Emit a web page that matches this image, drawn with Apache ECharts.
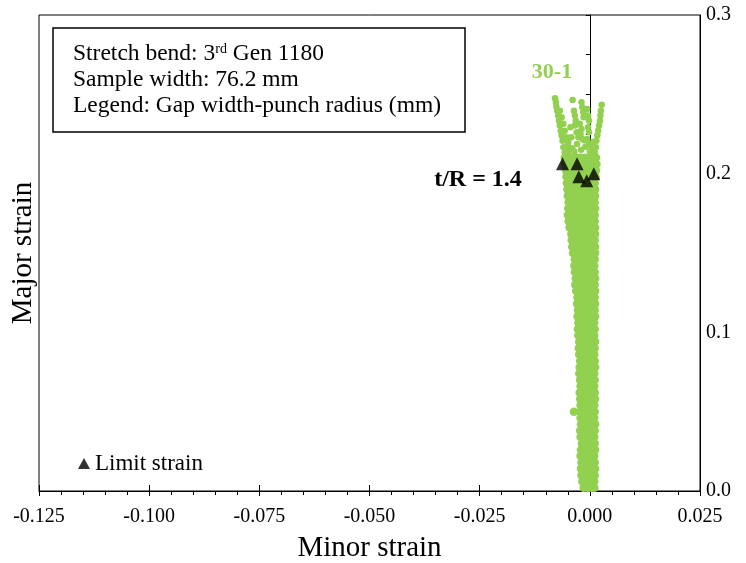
<!DOCTYPE html>
<html>
<head>
<meta charset="utf-8">
<script src="https://cdn.jsdelivr.net/npm/echarts@6/dist/echarts.min.js"></script>
<style>
  html, body { margin: 0; padding: 0; background: #fff; }
  #chart { width: 746px; height: 563px; }
</style>
</head>
<body>
<div id="chart"></div>
<script>
// main band of the 30-1 scatter: [major strain, minor strain values in that row]
const bandRows = [
  [0.002, -0.0014, -0.0005, 0.0004, 0.0010],
  [0.006, -0.0017, -0.0008, 0.0001, 0.0010],
  [0.010, -0.0019, -0.0010, -0.0001, 0.0008, 0.0011],
  [0.014, -0.0020, -0.0011, -0.0002, 0.0007, 0.0012],
  [0.018, -0.0019, -0.0010, -0.0001, 0.0008, 0.0011],
  [0.022, -0.0021, -0.0012, -0.0003, 0.0006, 0.0010],
  [0.026, -0.0020, -0.0011, -0.0002, 0.0007, 0.0012],
  [0.030, -0.0018, -0.0009, 0.0000, 0.0009, 0.0011],
  [0.034, -0.0021, -0.0012, -0.0003, 0.0006, 0.0010],
  [0.038, -0.0022, -0.0013, -0.0004, 0.0005, 0.0011],
  [0.042, -0.0020, -0.0011, -0.0002, 0.0007, 0.0012],
  [0.046, -0.0021, -0.0012, -0.0003, 0.0006, 0.0010],
  [0.050, -0.0036, -0.0022, -0.0013, -0.0004, 0.0005, 0.0011],
  [0.054, -0.0021, -0.0012, -0.0003, 0.0006, 0.0010],
  [0.058, -0.0022, -0.0013, -0.0004, 0.0005, 0.0012],
  [0.062, -0.0023, -0.0014, -0.0005, 0.0004, 0.0011],
  [0.066, -0.0021, -0.0012, -0.0003, 0.0006, 0.0010],
  [0.070, -0.0022, -0.0013, -0.0004, 0.0005, 0.0011],
  [0.074, -0.0024, -0.0015, -0.0006, 0.0003, 0.0010],
  [0.078, -0.0023, -0.0014, -0.0005, 0.0004, 0.0012],
  [0.082, -0.0022, -0.0013, -0.0004, 0.0005, 0.0011],
  [0.086, -0.0024, -0.0015, -0.0006, 0.0003, 0.0010],
  [0.090, -0.0025, -0.0016, -0.0007, 0.0002, 0.0011],
  [0.094, -0.0024, -0.0015, -0.0006, 0.0003, 0.0012],
  [0.098, -0.0026, -0.0017, -0.0008, 0.0001, 0.0010],
  [0.102, -0.0027, -0.0018, -0.0009, 0.0000, 0.0011],
  [0.106, -0.0026, -0.0017, -0.0008, 0.0001, 0.0010],
  [0.110, -0.0028, -0.0019, -0.0010, -0.0001, 0.0008, 0.0012],
  [0.114, -0.0027, -0.0018, -0.0009, 0.0000, 0.0009, 0.0011],
  [0.118, -0.0029, -0.0020, -0.0011, -0.0002, 0.0007, 0.0012],
  [0.122, -0.0028, -0.0019, -0.0010, -0.0001, 0.0008, 0.0011],
  [0.126, -0.0031, -0.0022, -0.0013, -0.0004, 0.0005, 0.0012],
  [0.130, -0.0033, -0.0024, -0.0015, -0.0006, 0.0003, 0.0011],
  [0.134, -0.0032, -0.0023, -0.0014, -0.0005, 0.0004, 0.0012],
  [0.138, -0.0034, -0.0025, -0.0016, -0.0007, 0.0002, 0.0011],
  [0.142, -0.0035, -0.0026, -0.0017, -0.0008, 0.0001, 0.0010],
  [0.146, -0.0034, -0.0025, -0.0016, -0.0007, 0.0002, 0.0011],
  [0.150, -0.0038, -0.0029, -0.0020, -0.0011, -0.0002, 0.0007, 0.0012],
  [0.154, -0.0040, -0.0031, -0.0022, -0.0013, -0.0004, 0.0005, 0.0012],
  [0.158, -0.0041, -0.0032, -0.0023, -0.0014, -0.0005, 0.0004, 0.0011],
  [0.162, -0.0042, -0.0033, -0.0024, -0.0015, -0.0006, 0.0003, 0.0012],
  [0.166, -0.0046, -0.0037, -0.0028, -0.0019, -0.0010, -0.0001, 0.0008, 0.0012],
  [0.170, -0.0048, -0.0039, -0.0030, -0.0021, -0.0012, -0.0003, 0.0006, 0.0011],
  [0.174, -0.0050, -0.0041, -0.0032, -0.0023, -0.0014, -0.0005, 0.0004, 0.0011],
  [0.178, -0.0049, -0.0040, -0.0031, -0.0022, -0.0013, -0.0004, 0.0005, 0.0012],
  [0.182, -0.0048, -0.0039, -0.0030, -0.0021, -0.0012, -0.0003, 0.0006, 0.0011],
  [0.186, -0.0050, -0.0041, -0.0032, -0.0023, -0.0014, -0.0005, 0.0004, 0.0012],
  [0.190, -0.0051, -0.0042, -0.0033, -0.0024, -0.0015, -0.0006, 0.0003, 0.0012],
  [0.194, -0.0052, -0.0043, -0.0034, -0.0025, -0.0016, -0.0007, 0.0002, 0.0011],
  [0.198, -0.0053, -0.0044, -0.0035, -0.0026, -0.0017, -0.0008, 0.0001, 0.0010, 0.0013],
  [0.202, -0.0054, -0.0045, -0.0036, -0.0027, -0.0018, -0.0009, 0.0000, 0.0009, 0.0014],
  [0.206, -0.0056, -0.0047, -0.0038, -0.0029, -0.0020, -0.0011, -0.0002, 0.0007, 0.0015],
  [0.210, -0.0057, -0.0048, -0.0039, -0.0030, -0.0021, -0.0012, -0.0003, 0.0006, 0.0014]
];

// loose points in the fingers above the limit strains: [minor, major]
const fingerPoints = [
  [-0.0079, 0.2475], [-0.0077, 0.2450], [-0.0076, 0.2423], [-0.0074, 0.2397], [-0.0072, 0.2366],
  [-0.0070, 0.2334], [-0.0068, 0.2303], [-0.0066, 0.2271], [-0.0064, 0.2240], [-0.0062, 0.2208],
  [-0.0060, 0.2166], [-0.0057, 0.2134],
  [-0.0068, 0.2397], [-0.0064, 0.2356], [-0.0060, 0.2314], [-0.0057, 0.2271], [-0.0053, 0.2229],
  [-0.0049, 0.2198], [-0.0047, 0.2156],
  [-0.0039, 0.2465], [-0.0036, 0.2397], [-0.0034, 0.2366], [-0.0032, 0.2334], [-0.0034, 0.2303],
  [-0.0030, 0.2261], [-0.0026, 0.2229], [-0.0029, 0.2187], [-0.0044, 0.2292], [-0.0042, 0.2229],
  [-0.0019, 0.2450], [-0.0017, 0.2418], [-0.0015, 0.2387], [-0.0014, 0.2355], [-0.0023, 0.2314],
  [-0.0019, 0.2282], [-0.0021, 0.2250], [-0.0017, 0.2219],
  [-0.0006, 0.2408], [-0.0004, 0.2366], [-0.0002, 0.2334], [-0.0004, 0.2292], [-0.0002, 0.2261],
  [-0.0006, 0.2219], [-0.0002, 0.2187],
  [0.0027, 0.2435], [0.0025, 0.2397], [0.0024, 0.2366], [0.0023, 0.2334], [0.0021, 0.2303],
  [0.0019, 0.2271], [0.0017, 0.2240], [0.0015, 0.2208], [0.0014, 0.2166], [0.0011, 0.2134],
  [-0.0050, 0.2180], [-0.0040, 0.2160], [-0.0010, 0.2170], [0.0005, 0.2160], [0.0008, 0.2200],
  [-0.0013, 0.2210], [-0.0035, 0.2140], [-0.0020, 0.2150], [0.0000, 0.2140], [0.0010, 0.2150],
  [-0.0049, 0.2140]
];

const limitMinor = [-0.0062, -0.0029, -0.0025, -0.0007, 0.0009];
const limitMajor = [0.2063, 0.2063, 0.1980, 0.1956, 0.2000];

let bandPoints = [];
for (let i = 0; i < bandRows.length; i++) {
  for (let j = 1; j < bandRows[i].length; j++) {
    bandPoints.push([bandRows[i][j], bandRows[i][0]]);
  }
}
let limitPoints = [];
for (let i = 0; i < limitMinor.length; i++) {
  limitPoints.push([limitMinor[i], limitMajor[i]]);
}

const serif = 'Liberation Serif';
const green = '#92D050';

let chart = echarts.init(document.getElementById('chart'));
chart.setOption({
  animation: false,
  grid: {
    left: 39, right: 46, top: 15, bottom: 72,
    show: true, borderColor: '#000', borderWidth: 1
  },
  legend: {
    data: ['Limit strain'],
    left: 73, top: 447,
    itemWidth: 12, itemHeight: 11, itemGap: 5,
    textStyle: { fontFamily: serif, fontSize: 23, color: '#000' }
  },
  xAxis: [
    {
      type: 'value', min: -0.125, max: 0.025, interval: 0.025,
      position: 'bottom',
      axisLine: { onZero: false, lineStyle: { color: '#000', width: 1 } },
      axisTick: { length: 5, lineStyle: { color: '#000' } },
      minorTick: { show: true, splitNumber: 5, length: 4, lineStyle: { color: '#000' } },
      axisLabel: {
        margin: 16, fontFamily: serif, fontSize: 20, color: '#000',
        formatter: v => (Math.abs(v) < 1e-9 ? 0 : v).toFixed(3)
      },
      splitLine: { show: false }
    },
    {
      type: 'value', min: -0.125, max: 0.025, interval: 0.025,
      position: 'bottom', offset: 0,
      axisLine: { show: false, onZero: false },
      axisTick: { inside: true, length: 6, lineStyle: { color: '#000' } },
      axisLabel: { show: false },
      splitLine: { show: false }
    }
  ],
  yAxis: [
    {
      type: 'value', min: 0, max: 0.3, interval: 0.1,
      position: 'right',
      axisLine: { show: true, onZero: false, lineStyle: { color: '#000' } },
      axisTick: { show: false },
      axisLabel: {
        margin: 6, fontFamily: serif, fontSize: 20, color: '#000',
        formatter: v => v.toFixed(1)
      },
      splitLine: { show: false }
    },
    {
      type: 'value', min: 0, max: 0.3, interval: 0.025,
      position: 'left',
      axisLine: { show: true, onZero: true, onZeroAxisIndex: 0, lineStyle: { color: '#000' } },
      axisTick: { show: true, length: 4, lineStyle: { color: '#000' } },
      axisLabel: { show: false },
      splitLine: { show: false }
    }
  ],
  graphic: [
    {
      type: 'rect', z: 100,
      shape: { x: 53, y: 28, width: 412, height: 104 },
      style: { fill: '#fff', stroke: '#000', lineWidth: 1.5 }
    },
    {
      type: 'text', z: 101, x: 73, y: 54,
      style: {
        text: '{n|Stretch bend: 3}{s|rd}{n| Gen 1180}',
        verticalAlign: 'middle',
        rich: {
          n: { fontFamily: serif, fontSize: 23.5, fill: '#000' },
          s: { fontFamily: serif, fontSize: 14, fill: '#000', verticalAlign: 'top' }
        }
      }
    },
    {
      type: 'text', z: 101, x: 73, y: 80,
      style: { text: 'Sample width: 76.2 mm', font: '23.5px "Liberation Serif"', fill: '#000', verticalAlign: 'middle' }
    },
    {
      type: 'text', z: 101, x: 73, y: 106,
      style: { text: 'Legend: Gap width-punch radius (mm)', font: '23.5px "Liberation Serif"', fill: '#000', verticalAlign: 'middle' }
    },
    {
      type: 'text', x: 552, y: 72,
      style: { text: '30-1', font: 'bold 22px "Liberation Serif"', fill: green, align: 'center', verticalAlign: 'middle' }
    },
    {
      type: 'text', x: 478, y: 180,
      style: { text: 't/R = 1.4', font: 'bold 24px "Liberation Serif"', fill: '#000', align: 'center', verticalAlign: 'middle' }
    },
    {
      type: 'text', x: 369.5, y: 548,
      style: { text: 'Minor strain', font: '29px "Liberation Serif"', fill: '#000', align: 'center', verticalAlign: 'middle' }
    },
    {
      type: 'text', x: 23, y: 253, rotation: Math.PI / 2,
      style: { text: 'Major strain', font: '29px "Liberation Serif"', fill: '#000', align: 'center', verticalAlign: 'middle' }
    }
  ],
  series: [
    {
      name: '30-1',
      type: 'scatter',
      symbolSize: 8.5,
      itemStyle: { color: green, opacity: 1 },
      data: bandPoints
    },
    {
      name: '30-1 top',
      type: 'scatter',
      symbolSize: 6.5,
      itemStyle: { color: green, opacity: 1 },
      data: fingerPoints
    },
    {
      name: 'Limit strain',
      type: 'scatter',
      symbol: 'triangle',
      symbolSize: 13,
      itemStyle: { color: '#000' },
      data: limitPoints
    }
  ]
});
</script>
</body>
</html>
